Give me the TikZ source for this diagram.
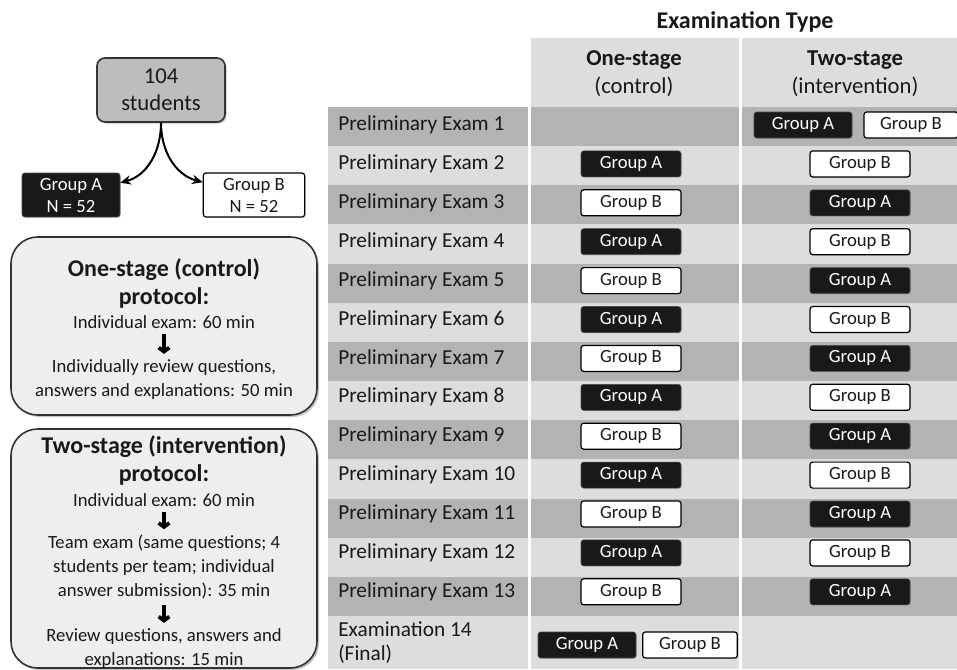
\documentclass[tikz,border=0pt]{standalone}
\usepackage{fontspec}
\setmainfont{Carlito}
\usepackage{xcolor}
\usetikzlibrary{arrows.meta,shadows}
\definecolor{bandlight}{HTML}{DCDDDF}
\definecolor{banddark}{HTML}{B2B3B5}
\definecolor{protofill}{HTML}{EEEEEE}
\definecolor{topfill}{HTML}{BDBDBD}
\definecolor{edgegray}{HTML}{333333}

\begin{document}
\begin{tikzpicture}[x=0.75pt,y=-0.75pt,
        every node/.style={text=black!90},
        grpA/.style={draw=gray!60!black, fill=black!90, text=white, rounded corners=2pt,
            minimum width=75pt, minimum height=19.5pt, inner sep=0pt,
            font=\fontsize{14}{16.5}\selectfont, drop shadow={opacity=0.25,shadow xshift=0.7pt,shadow yshift=-0.7pt}},
        grpB/.style={draw=black, line width=0.9pt, fill=white, rounded corners=2pt,
            minimum width=75pt, minimum height=19.5pt, inner sep=0pt,
            font=\fontsize{14}{16.5}\selectfont, drop shadow={opacity=0.25,shadow xshift=0.7pt,shadow yshift=-0.7pt}},
        rowlabel/.style={anchor=west, inner sep=0pt, align=left, font=\fontsize{16}{18}\selectfont},
        header/.style={align=center, inner sep=0pt, font=\fontsize{17}{21}\selectfont},
        title/.style={align=center, inner sep=0pt, font=\bfseries\fontsize{18}{21}\selectfont},
        stepbox/.style={align=center, inner sep=0pt, font=\fontsize{14}{18}\selectfont},
        protobox/.style={draw=edgegray, line width=1.2pt, fill=protofill, rounded corners=20pt,
            drop shadow={opacity=0.45,shadow xshift=1.5pt,shadow yshift=-1.5pt}},
        downarrow/.style={line width=2.8pt, -{Straight Barb[length=3pt,width=8pt]}, shorten <=4pt, shorten >=4pt},
        split/.style={line width=1.5pt, -{Stealth[length=8pt,width=7pt]}}]
            \useasboundingbox (0,0) rectangle (957,669);
            \fill[white] (0,0) rectangle (957,669);

            \fill[bandlight] (328,107) rectangle (957,669);
            \fill[bandlight] (529,38) rectangle (957,107);
            \fill[banddark] (328,107) rectangle (957,146.15);
            \fill[banddark] (328,185.3) rectangle (957,224.45);
            \fill[banddark] (328,263.6) rectangle (957,302.75);
            \fill[banddark] (328,341.9) rectangle (957,381.05);
            \fill[banddark] (328,420.2) rectangle (957,459.35);
            \fill[banddark] (328,498.5) rectangle (957,537.65);
            \fill[banddark] (328,576.8) rectangle (957,615.95);
            \fill[white] (528,38) rectangle (531,669);
            \fill[white] (739,38) rectangle (742,669);

            \node[title] (examtype) at (745,22) {Examination Type};
            \node[header] (onestage) at (634,74) {\textbf{One-stage}\\(control)};
            \node[header] (twostage) at (855,74) {\textbf{Two-stage}\\(intervention)};

            \node[rowlabel] (r1) at (338,125) {Preliminary Exam 1};
            \node[rowlabel] (r2) at (338,163.9) {Preliminary Exam 2};
            \node[rowlabel] (r3) at (338,202.8) {Preliminary Exam 3};
            \node[rowlabel] (r4) at (338,241.7) {Preliminary Exam 4};
            \node[rowlabel] (r5) at (338,280.6) {Preliminary Exam 5};
            \node[rowlabel] (r6) at (338,319.5) {Preliminary Exam 6};
            \node[rowlabel] (r7) at (338,358.4) {Preliminary Exam 7};
            \node[rowlabel] (r8) at (338,397.3) {Preliminary Exam 8};
            \node[rowlabel] (r9) at (338,436.2) {Preliminary Exam 9};
            \node[rowlabel] (r10) at (338,475.1) {Preliminary Exam 10};
            \node[rowlabel] (r11) at (338,514) {Preliminary Exam 11};
            \node[rowlabel] (r12) at (338,552.9) {Preliminary Exam 12};
            \node[rowlabel] (r13) at (338,591.8) {Preliminary Exam 13};
            \node[rowlabel] (r14) at (338,643) {Examination 14\\(Final)};

            \node[grpA, minimum width=73.5pt] (t1a) at (803,125) {Group A};
            \node[grpB, minimum width=70.5pt] (t1b) at (911,125) {Group B};
            \node[grpA] (o2) at (631,163.9) {Group A};
            \node[grpB] (t2) at (860,163.9) {Group B};
            \node[grpB] (o3) at (631,202.8) {Group B};
            \node[grpA] (t3) at (860,202.8) {Group A};
            \node[grpA] (o4) at (631,241.7) {Group A};
            \node[grpB] (t4) at (860,241.7) {Group B};
            \node[grpB] (o5) at (631,280.6) {Group B};
            \node[grpA] (t5) at (860,280.6) {Group A};
            \node[grpA] (o6) at (631,319.5) {Group A};
            \node[grpB] (t6) at (860,319.5) {Group B};
            \node[grpB] (o7) at (631,358.4) {Group B};
            \node[grpA] (t7) at (860,358.4) {Group A};
            \node[grpA] (o8) at (631,397.3) {Group A};
            \node[grpB] (t8) at (860,397.3) {Group B};
            \node[grpB] (o9) at (631,436.2) {Group B};
            \node[grpA] (t9) at (860,436.2) {Group A};
            \node[grpA] (o10) at (631,475.1) {Group A};
            \node[grpB] (t10) at (860,475.1) {Group B};
            \node[grpB] (o11) at (631,514) {Group B};
            \node[grpA] (t11) at (860,514) {Group A};
            \node[grpA] (o12) at (631,552.9) {Group A};
            \node[grpB] (t12) at (860,552.9) {Group B};
            \node[grpB] (o13) at (631,591.8) {Group B};
            \node[grpA] (t13) at (860,591.8) {Group A};
            \node[grpA, minimum width=73.5pt] (o14a) at (587,645) {Group A};
            \node[grpB, minimum width=71pt] (o14b) at (690,645) {Group B};

            \node[draw=edgegray, line width=1.2pt, fill=topfill, rounded corners=6pt, align=center,
                minimum width=96pt, minimum height=48pt, inner sep=0pt, font=\fontsize{17}{20}\selectfont,
                drop shadow={opacity=0.45,shadow xshift=1.2pt,shadow yshift=-1.2pt}] (students) at (161,90) {104\\students};
            \node[grpA, align=center, minimum width=73.5pt, minimum height=33pt] (leftA) at (71,195) {Group A\\N = 52};
            \node[grpB, align=center, minimum width=76pt, minimum height=33pt] (leftB) at (254,195) {Group B\\N = 52};
            \draw[split] (students.south) to[out=-90,in=15] (leftA.14);
            \draw[split] (students.south) to[out=-90,in=165] (leftB.166);

            \draw[protobox] (11,237) rectangle (317,415);
            \node[title] (ttl1) at (164,283) {One-stage (control)\\protocol:};
            \node[stepbox] (s11) at (164,322) {Individual exam: 60 min};
            \node[stepbox] (s12) at (164,379.5) {Individually review questions,\\answers and explanations: 50 min};
            \draw[downarrow] (s11) -- (s12);

            \draw[protobox] (11,429) rectangle (317,668);
            \node[title] (ttl2) at (164,460) {Two-stage (intervention)\\protocol:};
            \node[stepbox] (s21) at (164,500) {Individual exam: 60 min};
            \node[stepbox] (s22) at (164,567) {Team exam (same questions; 4\\students per team; individual\\answer submission): 35 min};
            \node[stepbox] (s23) at (164,648.5) {Review questions, answers and\\explanations: 15 min};
            \draw[downarrow] (s21) -- (s22);
            \draw[downarrow] (s22) -- (s23);
        \end{tikzpicture}
\end{document}
